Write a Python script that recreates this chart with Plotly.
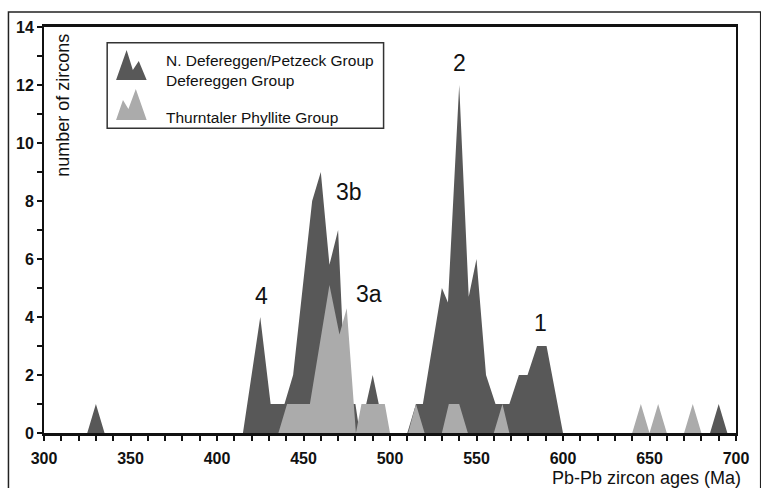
import plotly.graph_objects as go

# ---- data ----
dark_age = [300, 325, 330, 335, 415, 425, 431, 439, 444, 455, 460, 465, 470, 474.5, 480, 482.5,
            490, 497, 510, 515, 519, 530, 533.5, 540, 545.5, 550, 555.5, 561, 569, 574.5, 579.5,
            585, 590.5, 600, 685, 690, 695, 700]
dark_n = [0, 0, 1, 0, 0, 4, 1, 1, 2, 8, 9, 5.8, 7, 1, 1, 0,
          2, 0, 0, 1, 1, 5, 4.5, 12, 4.7, 6, 2, 1, 1, 2, 2,
          3, 3, 0, 0, 1, 0, 0]

light_age = [300, 435.5, 440.5, 453.7, 465, 470.8, 475, 480.3, 483.5, 497, 500, 510.5, 515, 520,
             530, 534, 540, 545, 560, 565, 569, 640, 645, 650, 655, 660, 670, 675, 680, 700]
light_n = [0, 0, 1, 1, 5.1, 3.4, 4.3, 0, 1, 1, 0, 0, 1, 0,
           0, 1, 1, 0, 0, 1, 0, 0, 1, 0, 1, 0, 0, 1, 0, 0]

peak_labels = ["2", "3b", "3a", "4", "1"]
peak_x = [540.2, 476.5, 487.9, 426.0, 586.8]
peak_y = [12.75, 8.31, 4.81, 4.72, 3.81]

x_ticks = [300, 350, 400, 450, 500, 550, 600, 650, 700]
y_ticks = [0, 2, 4, 6, 8, 10, 12, 14]

series_names = ["N. Defereggen/Petzeck Group<br>Defereggen Group", "Thurntaler Phyllite Group"]

DARK = "#585858"
LIGHT = "#ababab"
INK = "#111111"
FONT = "Liberation Sans, Arial, sans-serif"

W, H = 761, 488
L, R, T, B = 44, 745, 27, 432.7


def px(x):
    return (x - L) / (R - L)


def py(y):
    return (B - y) / (B - T)


fig = go.Figure()
fig.add_trace(go.Scatter(x=dark_age, y=dark_n, mode="lines", fill="tozeroy",
                         fillcolor=DARK, line=dict(width=0, color=DARK),
                         name=series_names[0], showlegend=False, hoverinfo="skip"))
fig.add_trace(go.Scatter(x=light_age, y=light_n, mode="lines", fill="tozeroy",
                         fillcolor=LIGHT, line=dict(width=0, color=LIGHT),
                         name=series_names[1], showlegend=False, hoverinfo="skip"))

annotations = []
for t, x, y in zip(peak_labels, peak_x, peak_y):
    annotations.append(dict(x=x, y=y, xref="x", yref="y", text=t, showarrow=False,
                            font=dict(size=23, color=INK, family=FONT)))

# axis titles
annotations.append(dict(x=px(752), y=py(478), xref="paper", yref="paper",
                        text="Pb-Pb zircon ages (Ma)", showarrow=False, xanchor="right",
                        yanchor="middle", font=dict(size=18, color=INK, family=FONT)))
annotations.append(dict(x=px(63), y=py(105), xref="paper", yref="paper",
                        text="number of zircons", showarrow=False, textangle=-90,
                        xanchor="center", yanchor="middle",
                        font=dict(size=18, color=INK, family=FONT)))

# legend texts
annotations.append(dict(x=px(166), y=py(70), xref="paper", yref="paper",
                        text=series_names[0], showarrow=False, xanchor="left", yanchor="middle",
                        align="left", font=dict(size=15.5, color=INK, family=FONT)))
annotations.append(dict(x=px(166), y=py(117), xref="paper", yref="paper",
                        text=series_names[1], showarrow=False, xanchor="left", yanchor="middle",
                        align="left", font=dict(size=15.5, color=INK, family=FONT)))


def path(points):
    s = "M " + " L ".join(f"{px(a):.5f},{py(b):.5f}" for a, b in points) + " Z"
    return s


shapes = [
    # outer frame
    dict(type="rect", xref="paper", yref="paper", x0=px(8), x1=px(770), y0=py(12), y1=py(500),
         line=dict(color="#222", width=1.5), layer="above"),
    # legend box
    dict(type="rect", xref="paper", yref="paper", x0=px(108), x1=px(388), y0=py(42.7), y1=py(128.3),
         line=dict(color="#333", width=1.5), fillcolor="white", layer="above"),
    # legend icons
    dict(type="path", xref="paper", yref="paper",
         path=path([(117, 80), (127.7, 50), (134, 70), (140, 61), (148, 80)]),
         fillcolor=DARK, line=dict(width=0), layer="above"),
    dict(type="path", xref="paper", yref="paper",
         path=path([(117, 120), (124, 100), (129.5, 109), (137, 89), (148, 120)]),
         fillcolor=LIGHT, line=dict(width=0), layer="above"),
]

fig.update_layout(
    width=W, height=H,
    margin=dict(l=L, r=W - R, t=T, b=H - B, pad=0),
    paper_bgcolor="white", plot_bgcolor="white",
    showlegend=False,
    annotations=annotations,
    shapes=shapes,
    font=dict(family=FONT, color=INK, size=16),
)
fig.update_xaxes(range=[300, 700], tickvals=x_ticks, ticktext=[f"<b>{v}</b>" for v in x_ticks],
                 ticks="outside", ticklen=5, tickwidth=1.5, tickcolor=INK,
                 minor=dict(dtick=10, tick0=300, ticks="outside", ticklen=5, tickwidth=1.5, tickcolor=INK),
                 showline=True, linecolor=INK, linewidth=2.5, mirror=True,
                 showgrid=False, zeroline=False, ticklabelstandoff=4,
                 tickfont=dict(size=16, color=INK, family=FONT))
fig.update_yaxes(range=[0, 14], tickvals=y_ticks, ticktext=[f"<b>{v}</b>" for v in y_ticks],
                 ticks="outside", ticklen=5, tickwidth=1.5, tickcolor=INK,
                 minor=dict(dtick=1, tick0=0, ticks="outside", ticklen=5, tickwidth=1.5, tickcolor=INK),
                 showline=True, linecolor=INK, linewidth=2, mirror=True,
                 showgrid=False, zeroline=False,
                 tickfont=dict(size=16, color=INK, family=FONT))

fig.write_html("out.html", config={"displayModeBar": False},
               post_script="document.body.style.margin='0';document.body.style.padding='0';")
